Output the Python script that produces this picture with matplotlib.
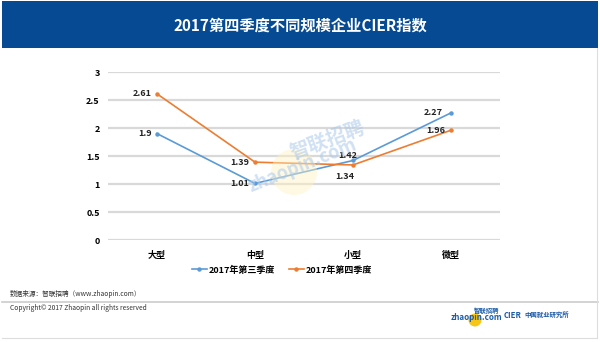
import matplotlib.pyplot as plt
from matplotlib.patches import Rectangle, Ellipse
from matplotlib.lines import Line2D

plt.rcParams['font.family'] = ['Noto Sans CJK SC', 'DejaVu Sans']

categories = ['大型', '中型', '小型', '微型']
q3_values = [1.9, 1.01, 1.42, 2.27]
q4_values = [2.61, 1.39, 1.34, 1.96]
series_names = ['2017年第三季度', '2017年第四季度']
yticks = [0, 0.5, 1, 1.5, 2, 2.5, 3]

blue = '#5B9BD5'
orange = '#ED7D31'
W, H = 600, 342

fig = plt.figure(figsize=(6, 3.42), dpi=100)
fig.patch.set_facecolor('white')

def px(x, y):
    return x / W, 1 - y / H

# title banner
bx, by = px(2, 48)
fig.patches.append(Rectangle((bx, by), 596 / W, 47 / H, transform=fig.transFigure,
                             facecolor='#054A93', edgecolor='none', zorder=0))
fig.text(*px(300, 26), '2017第四季度不同规模企业CIER指数', color='white',
         fontsize=11, fontweight='bold', ha='center', va='center')

ax = fig.add_axes([108 / W, (H - 240) / H, 392 / W, 168 / H])
ax.patch.set_alpha(0)
x = range(len(categories))
ax.plot(x, q3_values, color=blue, lw=1.2, marker='o', ms=2.2, label=series_names[0], zorder=3)
ax.plot(x, q4_values, color=orange, lw=1.2, marker='o', ms=2.2, label=series_names[1], zorder=3)
ax.set_xlim(-0.5, 3.5)
ax.set_ylim(0, 3)
ax.set_yticks(yticks)
ax.set_yticklabels(['0', '0.5', '1', '1.5', '2', '2.5', '3'])
ax.set_xticks(list(x))
ax.set_xticklabels(categories)
ax.grid(axis='y', color='#D9D9D9', lw=1.6)
ax.set_axisbelow(True)
for s in ax.spines.values():
    s.set_visible(False)
ax.tick_params(length=0, labelsize=6.5, pad=6)
for t in ax.get_xticklabels() + ax.get_yticklabels():
    t.set_fontweight('bold')
ax.tick_params(axis='x', pad=8)

# data labels (offsets in points, relative to each marker)
lab = dict(fontsize=6.5, fontweight='bold', color='#222222')
offsets_q3 = [(-4, 0, 'right'), (-4, 0, 'right'), (-4, 3.5, 'center'), (-6, 0, 'right')]
offsets_q4 = [(-4, 0, 'right'), (-4, 0, 'right'), (-6, -8.5, 'center'), (-4, 0, 'right')]
for vals, offs in ((q3_values, offsets_q3), (q4_values, offsets_q4)):
    for i, (v, (dx, dy, ha)) in enumerate(zip(vals, offs)):
        ax.annotate(f'{v:g}', (i, v), xytext=(dx, dy), textcoords='offset points',
                    ha=ha, va='center', zorder=4, **lab)

# faint watermark behind the lines
wx, wy = px(294, 172)
fig.patches.append(Ellipse((wx, wy), 46 / W, 46 / H, transform=fig.transFigure,
                           facecolor='#FFF3C4', edgecolor='none', alpha=0.45, zorder=0.5))
fig.text(*px(327, 140), '智联招聘', color='#A9C8EA', alpha=0.55, fontsize=14,
         fontweight='bold', rotation=20, ha='center', va='center', zorder=0.6)
fig.text(*px(302, 166), 'zhaopin.com', color='#A9C8EA', alpha=0.55, fontsize=13,
         fontweight='bold', rotation=22, ha='center', va='center', zorder=0.6)

handles = [Line2D([], [], color=blue, lw=1.2, marker='o', ms=2.2),
           Line2D([], [], color=orange, lw=1.2, marker='o', ms=2.2)]
fig.legend(handles, series_names, loc='center', bbox_to_anchor=px(282, 270),
           ncol=2, frameon=False, handlelength=1.6, handletextpad=0.2,
           columnspacing=1.6, prop={'size': 6.5, 'weight': 'bold'})

# footer
fig.text(*px(10, 294), '数据来源：智联招聘（www.zhaopin.com）', fontsize=4.8,
         color='#333333', ha='left', va='center')
fig.lines.append(Line2D([2 / W, 598 / W], [1 - 302 / H] * 2, transform=fig.transFigure,
                        color='#CCCCCC', lw=1.2))
fig.text(*px(10, 308), 'Copyright© 2017 Zhaopin all rights reserved', fontsize=4.8,
         color='#333333', ha='left', va='center')
fig.lines.append(Line2D([2 / W, 597 / W], [1 - 338 / H] * 2, transform=fig.transFigure,
                        color='#DDDDDD', lw=0.8))
fig.lines.append(Line2D([597 / W, 597 / W], [1 - 48 / H, 1 - 338 / H], transform=fig.transFigure,
                        color='#DDDDDD', lw=0.8))

# logos
lx, ly = px(475, 320)
fig.patches.append(Ellipse((lx, ly), 13 / W, 13 / H, transform=fig.transFigure,
                           facecolor='#F5C518', edgecolor='none', zorder=0.5))
fig.text(*px(476, 317), 'zhaopin.com', fontsize=5.8, fontweight='bold', style='italic',
         color='#1B5BA8', ha='center', va='center')
fig.text(*px(487, 310), '智联招聘', fontsize=4.6, fontweight='bold', color='#1B5BA8',
         ha='center', va='center')
fig.text(*px(504, 316), 'CIER', fontsize=5.6, fontweight='bold', color='#1B5BA8',
         ha='left', va='center')
fig.text(*px(524, 315), '中国就业研究所', fontsize=4.6, fontweight='bold', color='#1B5BA8',
         ha='left', va='center')

fig.savefig('out.png', dpi=100)
